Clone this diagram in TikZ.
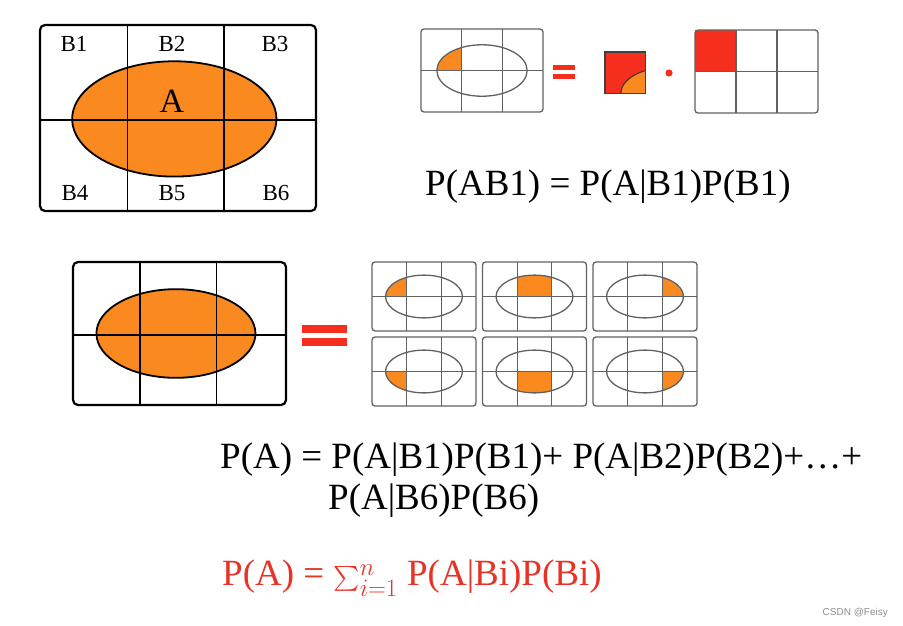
\documentclass[tikz,border=0pt]{standalone}
\usepackage{amsmath}
\usepackage{fontspec}
\setmainfont{Liberation Serif}
\newfontfamily\marksans{Liberation Sans}
\usepackage{xcolor}
\definecolor{aorange}{RGB}{250,138,32}
\definecolor{bred}{RGB}{246,46,30}
\definecolor{tred}{RGB}{232,50,38}

\tikzset{
  gline/.style={draw=black!62, line width=1.3pt},
  bline/.style={draw=black, line width=1.8pt},
  evenn/.style={x radius=1.11, y radius=0.62}
}

% small box: x, y, width, height, column and row of the shaded piece
\newcommand{\piecebox}[6]{%
  \begin{scope}[shift={(#1,#2)}, xscale=#3/3, yscale=#4/2]
    \begin{scope}
      \clip (#5,#6) rectangle ++(1,1);
      \fill[aorange] (1.5,1) ellipse [evenn];
    \end{scope}
    \draw[gline] (1.5,1) ellipse [evenn];
    \draw[gline] (0,1) -- (3,1) (1,0) -- (1,2) (2,0) -- (2,2);
    \draw[gline, rounded corners=3pt] (0,0) rectangle (3,2);
  \end{scope}}

\begin{document}
\begin{tikzpicture}[x=1pt, y=-1pt,
  lab/.style={font=\fontsize{23}{27}\selectfont, inner sep=0pt},
  eq/.style={font=\fontsize{37}{44}\selectfont, inner sep=0pt, anchor=base west},
  bar/.style={fill=bred}
]
\useasboundingbox (0,0) rectangle (903,626);

% big box with A
\begin{scope}[shift={(40,25)}, xscale=276/3, yscale=186/2]
  \filldraw[fill=aorange, bline] (1.46,1.01) ellipse [x radius=1.11, y radius=0.62];
  \draw[bline] (0,1.02) -- (3,1.02) (0.95,0) -- (0.95,2) (2,0) -- (2,2);
  \draw[bline, line width=2.2pt, rounded corners=5pt] (0,0) rectangle (3,2);
\end{scope}
\node[lab] (b1) at (74,44) {B1};
\node[lab] (b2) at (172,44) {B2};
\node[lab] (b3) at (275,44) {B3};
\node[lab] (b4) at (75,193) {B4};
\node[lab] (b5) at (172,193) {B5};
\node[lab] (b6) at (276,193) {B6};
\node[lab, font=\fontsize{34}{40}\selectfont] (a) at (172,101) {A};

% P(AB1) = P(A|B1) . P(B1)
\piecebox{421}{29}{122}{83}{0}{0}
\fill[bar] (553,65.5) rectangle (575,70);
\fill[bar] (553,74.5) rectangle (575,79);
\begin{scope}[shift={(605,52)}, xscale=122/3, yscale=83/2]
  \fill[bred] (0,0) rectangle (1,1);
  \begin{scope}
    \clip (0,0) rectangle (1,1);
    \filldraw[fill=aorange, draw=black!80, line width=1pt] (1.5,1) ellipse [evenn];
  \end{scope}
  \draw[draw=black!75, line width=1.3pt] (0,0) rectangle (1,1);
\end{scope}
\fill[bred] (669,73) circle (3.6);
\begin{scope}[shift={(695,30)}, xscale=123/3, yscale=83/2]
  \fill[bred] (0,0) rectangle (1,1);
  \draw[gline] (0,1) -- (3,1) (1,0) -- (1,2) (2,0) -- (2,2);
  \draw[gline, rounded corners=3pt] (0,0) rectangle (3,2);
\end{scope}
\node[eq] (f1) at (425,195) {P(AB1) = P(A|B1)P(B1)};

% whole A = six pieces
\begin{scope}[shift={(73,262)}, xscale=213/3, yscale=143/2]
  \filldraw[fill=aorange, bline] (1.45,1.0) ellipse [x radius=1.12, y radius=0.62];
  \draw[bline] (0,1.02) -- (3,1.02) (0.94,0) -- (0.94,2) (2.02,0) -- (2.02,2);
  \draw[bline, line width=2.2pt, rounded corners=5pt] (0,0) rectangle (3,2);
\end{scope}
\fill[bar] (302,325) rectangle (347,333);
\fill[bar] (302,337.5) rectangle (347,346);
\foreach \c in {0,1,2}
  \foreach \r in {0,1}
    \piecebox{372+110.5*\c}{262+75*\r}{104}{69}{\c}{\r};

\node[eq] (f2) at (220,468) {P(A) = P(A|B1)P(B1)+ P(A|B2)P(B2)+…+};
\node[eq] (f3) at (328,509) {P(A|B6)P(B6)};
\node[eq, text=tred] (f4) at (222,585) {P(A) = $\sum_{i=1}^{n}$ P(A|Bi)P(Bi)};

\node[font=\marksans\fontsize{10}{12}\selectfont, text=black!45, anchor=base east, inner sep=0pt] (mark) at (888,615) {CSDN @Feisy};
\end{tikzpicture}
\end{document}
